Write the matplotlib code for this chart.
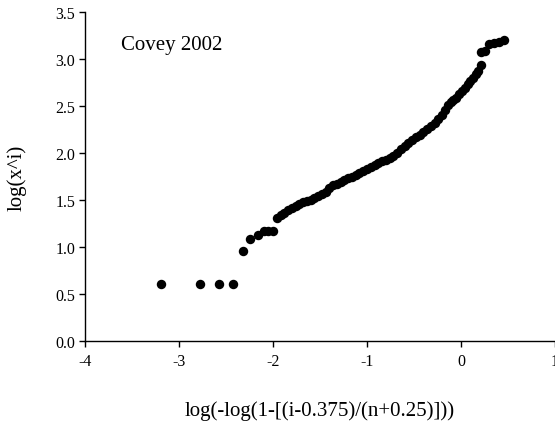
import numpy as np
import matplotlib
matplotlib.use("Agg")
import matplotlib.pyplot as plt

plt.rcParams['font.family'] = ['Liberation Serif', 'DejaVu Serif']

# Puntos aislados de la cola inferior
x_bajos = [-3.19, -2.78, -2.57, -2.43, -2.32, -2.24, -2.16, -2.10, -2.05, -2.00]
y_bajos = [0.61, 0.61, 0.61, 0.61, 0.96, 1.08, 1.13, 1.17, 1.17, 1.17]

# Tramo central (banda densa de puntos)
x_medio = [-1.96, -1.92, -1.88, -1.84, -1.80, -1.76, -1.72, -1.68, -1.64, -1.60,
           -1.56, -1.52, -1.48, -1.44, -1.40, -1.36, -1.32, -1.28, -1.24, -1.20,
           -1.16, -1.12, -1.08, -1.04, -1.00, -0.96, -0.92, -0.88, -0.84, -0.80,
           -0.76, -0.72, -0.68, -0.64, -0.60, -0.56, -0.52, -0.48, -0.44, -0.40,
           -0.36, -0.32, -0.28, -0.24, -0.20, -0.17, -0.14, -0.11, -0.08, -0.05,
           -0.02, 0.01, 0.04, 0.07, 0.10, 0.13, 0.16, 0.18]
y_medio = [1.31, 1.34, 1.36, 1.39, 1.42, 1.44, 1.46, 1.475, 1.49, 1.505,
           1.52, 1.545, 1.565, 1.59, 1.625, 1.655, 1.67, 1.69, 1.71, 1.73,
           1.75, 1.77, 1.79, 1.81, 1.83, 1.85, 1.87, 1.89, 1.91, 1.93,
           1.95, 1.97, 2.00, 2.04, 2.07, 2.11, 2.14, 2.17, 2.195, 2.225,
           2.255, 2.285, 2.32, 2.36, 2.40, 2.46, 2.51, 2.54, 2.56, 2.59,
           2.63, 2.66, 2.69, 2.73, 2.77, 2.80, 2.84, 2.87]

# Cola superior
x_altos = [0.21, 0.21, 0.26, 0.30, 0.35, 0.40, 0.46]
y_altos = [2.94, 3.07, 3.08, 3.16, 3.17, 3.18, 3.20]

x = np.array(x_bajos + x_medio + x_altos)
y = np.array(y_bajos + y_medio + y_altos)

fig = plt.figure(figsize=(5.55, 4.27), dpi=100)
ax = fig.add_axes([85 / 555, 85 / 427, 470 / 555, 329 / 427])

ax.plot(x, y, 'o', color='black', markersize=6.8, markeredgewidth=0)

ax.set_xlim(-4, 1)
ax.set_ylim(0, 3.5)
ax.set_xticks([-4, -3, -2, -1, 0, 1])
ax.set_xticklabels(['-4', '-3', '-2', '-1', '0', '1'])
ax.set_yticks(np.arange(0, 3.51, 0.5))
ax.set_yticklabels([f"{v:.1f}" for v in np.arange(0, 3.51, 0.5)])

for lado in ['top', 'right']:
    ax.spines[lado].set_visible(False)
for lado in ['left', 'bottom']:
    ax.spines[lado].set_linewidth(1.0)

ax.tick_params(direction='out', length=4, width=1.0, labelsize=11.5, pad=3)
ax.tick_params(axis='x', pad=5)

ax.set_xlabel("log(-log(1-[(i-0.375)/(n+0.25)]))", fontsize=15, labelpad=22)
ax.set_ylabel("log(x^i)", fontsize=15, labelpad=21)
ax.text(-3.62, 3.11, "Covey 2002", fontsize=15)

plt.savefig("out.png", dpi=100)
